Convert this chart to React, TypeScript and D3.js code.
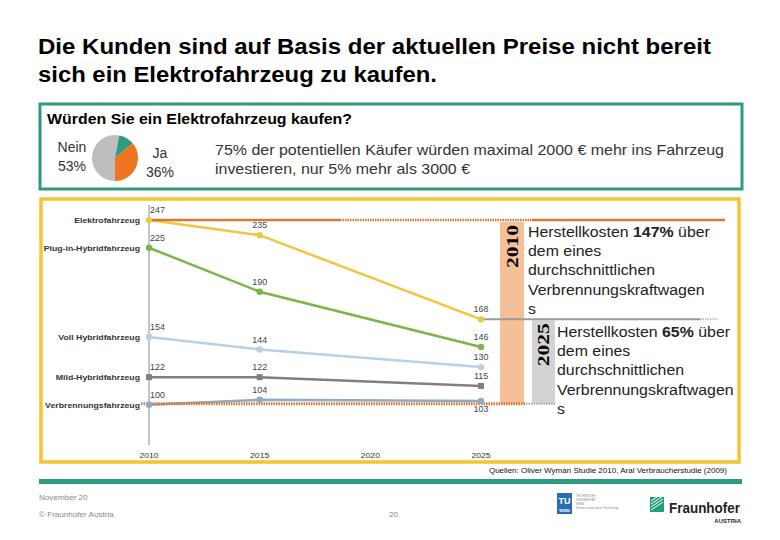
import React from "react";
import * as d3 from "d3";

const years = [2010, 2015, 2025];
const axisYears = [2010, 2015, 2020, 2025];
const seriesNames = [
  "Elektrofahrzeug",
  "Plug-in-Hybridfahrzeug",
  "Voll Hybridfahrzeug",
  "Mild-Hybridfahrzeug",
  "Verbrennungsfahrzeug",
];
const elektro = [247, 235, 168];
const plugIn = [225, 190, 146];
const vollHybrid = [154, 144, 130];
const mildHybrid = [122, 122, 115];
const verbrennung = [100, 104, 103];
const seriesColors = ["#F0C63C", "#7AB648", "#B9CFE2", "#808080", "#8FAAC6"];
const seriesMarkers = ["circle", "circle", "circle", "square", "circle"];

const pieLabels = ["Nein", "Sonstige", "Ja"];
const pieValues = [53, 11, 36];
const pieColors = ["#BEBEBE", "#2E9A7E", "#EE7420"];

const title = [
  "Die Kunden sind auf Basis der aktuellen Preise nicht bereit",
  "sich ein Elektrofahrzeug zu kaufen.",
];
const titleWidths = [673, 399];
const question = "Würden Sie ein Elektrofahrzeug kaufen?";
const infoText = [
  "75% der potentiellen Käufer würden maximal 2000 € mehr ins Fahrzeug",
  "investieren, nur 5% mehr als 3000 €",
];
const infoWidths = [509, 255];
const costNotes = [
  { year: "2010", pct: "147%" },
  { year: "2025", pct: "65%" },
];
const noteLines = ["dem eines", "durchschnittlichen", "Verbrennungskraftwagen", "s"];
const source = "Quellen: Oliver Wyman Studie 2010, Aral Verbraucherstudie (2009)";

const SANS = "'Liberation Sans', Arial, Helvetica, sans-serif";
const SERIF = "'Liberation Serif', 'Times New Roman', serif";

// horizontally stretched text (the slide is a 4:3 page widened to 780px)
function SText(props: any) {
  const { x, y, sx = 1.08, children, ...rest } = props;
  return (
    <text transform={`translate(${x},${y}) scale(${sx},1)`} {...rest}>
      {children}
    </text>
  );
}

export default function App() {
  const allSeries = [elektro, plugIn, vollHybrid, mildHybrid, verbrennung];
  const x = d3.scaleLinear().domain([2010, 2025]).range([149, 481]);
  const y = d3.scaleLinear().domain([68, 259]).range([445, 205]);
  const line = d3
    .line<[number, number]>()
    .x((d) => x(d[0]))
    .y((d) => y(d[1]));

  const pie = d3
    .pie<number>()
    .sort(null)
    .startAngle(Math.PI)
    .endAngle(3 * Math.PI)(pieValues);
  const arc = d3.arc<d3.PieArcDatum<number>>().innerRadius(0).outerRadius(23);

  const orange = "#D8782E";
  const teal = "#2E9A80";
  const yellow = "#F2C531";

  const labelPos = (si: number, pi: number) => {
    if (pi === 0) return { dx: 1, dy: -7, anchor: "start" };
    if (pi === 2 && si === 4) return { dx: 0, dy: 11, anchor: "middle" };
    return { dx: 0, dy: -7, anchor: "middle" };
  };

  const yTop = y(elektro[0]);
  const yBase = y(verbrennung[0]);
  const y2025 = y(elektro[2]);

  return (
    <svg
      width={780}
      height={540}
      style={{ position: "absolute", left: 0, top: 0, background: "#fff" }}
      fontFamily={SANS}
    >
      <rect width={780} height={540} fill="#fff" />
      {title.map((t, i) => (
        <text
          key={i}
          x={38}
          y={54 + i * 28}
          fontSize={22}
          fontWeight="bold"
          fill="#000"
          textLength={titleWidths[i]}
          lengthAdjust="spacingAndGlyphs"
        >
          {t}
        </text>
      ))}

      {/* top panel */}
      <rect x={40} y={104} width={702} height={85} fill="none" stroke={teal} strokeWidth={3} />
      <text
        x={47}
        y={124}
        fontSize={15}
        fontWeight="bold"
        fill="#000"
        textLength={305}
        lengthAdjust="spacingAndGlyphs"
      >
        {question}
      </text>
      <g transform="translate(115,158)">
        {pie.map((p, i) => (
          <path key={i} d={arc(p) || ""} fill={pieColors[i]} />
        ))}
      </g>
      <text x={72} y={152} fontSize={14} fill="#333" textAnchor="middle">{pieLabels[0]}</text>
      <text x={72} y={171} fontSize={14} fill="#333" textAnchor="middle">{pieValues[0]}%</text>
      <text x={160} y={158} fontSize={14} fill="#333" textAnchor="middle">{pieLabels[2]}</text>
      <text x={160} y={177} fontSize={14} fill="#333" textAnchor="middle">{pieValues[2]}%</text>
      {infoText.map((t, i) => (
        <text
          key={i}
          x={215}
          y={155 + i * 19}
          fontSize={15}
          fill="#333"
          textLength={infoWidths[i]}
          lengthAdjust="spacingAndGlyphs"
        >
          {t}
        </text>
      ))}

      {/* chart panel */}
      <rect x={41} y={199} width={698} height={263} fill="none" stroke={yellow} strokeWidth={3.5} />

      <line x1={149} x2={149} y1={205} y2={445} stroke="#8a8a8a" strokeWidth={1} />

      {/* cost boxes */}
      <rect x={500} y={yTop + 2} width={24} height={yBase - yTop - 3} fill="#F5BF97" />
      <rect x={532} y={y2025 + 1} width={23} height={yBase - y2025 - 2} fill="#D3D3D3" />
      <text
        transform={`translate(518,${yTop + 48}) rotate(-90)`}
        fontFamily={SERIF}
        fontWeight="bold"
        fontSize={16}
        textLength={43}
        lengthAdjust="spacingAndGlyphs"
      >
        {costNotes[0].year}
      </text>
      <text
        transform={`translate(549,${y2025 + 47}) rotate(-90)`}
        fontFamily={SERIF}
        fontWeight="bold"
        fontSize={16}
        textLength={43}
        lengthAdjust="spacingAndGlyphs"
      >
        {costNotes[1].year}
      </text>

      {/* series lines */}
      {allSeries.map((vals, si) => (
        <path
          key={si}
          d={line(years.map((yr, i) => [yr, vals[i]] as [number, number])) || ""}
          fill="none"
          stroke={seriesColors[si]}
          strokeWidth={2.5}
        />
      ))}

      {/* reference lines */}
      <line x1={149} x2={340} y1={yTop} y2={yTop} stroke={orange} strokeWidth={2.5} />
      <line x1={340} x2={532} y1={yTop} y2={yTop} stroke={orange} strokeWidth={2.5} strokeDasharray="1.5,1" />
      <line x1={532} x2={725} y1={yTop} y2={yTop} stroke={orange} strokeWidth={2.5} />
      <line x1={141} x2={526} y1={yBase - 1} y2={yBase - 1} stroke={orange} strokeWidth={3} strokeDasharray="1.5,1" />
      <line x1={526} x2={556} y1={yBase - 1} y2={yBase - 1} stroke="#aaa" strokeWidth={2} strokeDasharray="1.5,1" />
      <line x1={481} x2={700} y1={y2025} y2={y2025} stroke="#9a9a9a" strokeWidth={2} />
      <line x1={700} x2={718} y1={y2025} y2={y2025} stroke="#bbb" strokeWidth={2} strokeDasharray="1.5,1" />

      {/* markers & labels */}
      {allSeries.map((vals, si) =>
        vals.map((v, pi) => {
          const cx = x(years[pi]);
          const cy = y(v);
          const lp = labelPos(si, pi);
          return (
            <g key={`${si}-${pi}`}>
              {seriesMarkers[si] === "square" ? (
                <rect x={cx - 3} y={cy - 3} width={6} height={6} fill={seriesColors[si]} />
              ) : (
                <circle cx={cx} cy={cy} r={3.2} fill={seriesColors[si]} />
              )}
              <SText
                x={cx + lp.dx}
                y={cy + lp.dy}
                sx={1.05}
                fontSize={8.5}
                fill="#444"
                textAnchor={lp.anchor}
              >
                {v}
              </SText>
            </g>
          );
        })
      )}

      {/* series names */}
      {seriesNames.map((n, si) => (
        <SText
          key={n}
          x={140}
          y={y(allSeries[si][0]) + 3}
          sx={1.09}
          fontSize={8}
          fontWeight="bold"
          fill="#333"
          textAnchor="end"
        >
          {n}
        </SText>
      ))}

      {/* x axis labels */}
      {axisYears.map((yr) => (
        <SText key={yr} x={x(yr)} y={458} sx={1.08} fontSize={8} fill="#333" textAnchor="middle">
          {yr}
        </SText>
      ))}

      {/* cost notes */}
      {costNotes.map((c, ci) => {
        const tx = ci === 0 ? 528 : 557;
        const ty = ci === 0 ? 237 : 337;
        return (
          <g key={ci} fontSize={15} fill="#222">
            <SText x={tx} y={ty} sx={1.06}>
              Herstellkosten <tspan fontWeight="bold">{c.pct}</tspan> über
            </SText>
            {noteLines.map((l, li) => (
              <SText key={li} x={tx} y={ty + (li + 1) * 19.2} sx={1.06}>
                {l}
              </SText>
            ))}
          </g>
        );
      })}

      {/* source */}
      <SText x={727} y={473} sx={1.07} fontSize={7.5} fill="#111" textAnchor="end">
        {source}
      </SText>

      {/* footer */}
      <rect x={39} y={479} width={703} height={5} fill={teal} />
      <SText x={39} y={500} sx={1.08} fontSize={7.5} fill="#888">November 20</SText>
      <SText x={39} y={517} sx={1.08} fontSize={7.5} fill="#888">© Fraunhofer Austria</SText>
      <SText x={389} y={517} sx={1.08} fontSize={7.5} fill="#888">20</SText>

      {/* TU logo */}
      <rect x={557} y={493} width={15} height={21} fill="#2B6CB0" />
      <text x={564.5} y={504} fontSize={9} fontWeight="bold" fill="#fff" textAnchor="middle">TU</text>
      <text x={564.5} y={512} fontSize={4} fontWeight="bold" fill="#fff" textAnchor="middle">WIEN</text>
      {["TECHNISCHE", "UNIVERSITÄT", "WIEN", "Vienna University of Technology"].map((t, i) => (
        <text key={i} x={576} y={497 + i * 4} fontSize={3} fill="#888">
          {t}
        </text>
      ))}

      {/* Fraunhofer logo */}
      <rect x={650} y={497} width={14} height={15} fill="#1F9E78" />
      {[0, 1, 2, 3].map((i) => (
        <line key={i} x1={651} y1={510 - i * 3} x2={663} y2={502 - i * 3} stroke="#fff" strokeWidth={1} />
      ))}
      <text
        x={669}
        y={513}
        fontSize={14}
        fontWeight="bold"
        fill="#222"
        textLength={71}
        lengthAdjust="spacingAndGlyphs"
      >
        Fraunhofer
      </text>
      <text x={741} y={523} fontSize={6} fontWeight="bold" fill="#222" textAnchor="end">AUSTRIA</text>
    </svg>
  );
}
